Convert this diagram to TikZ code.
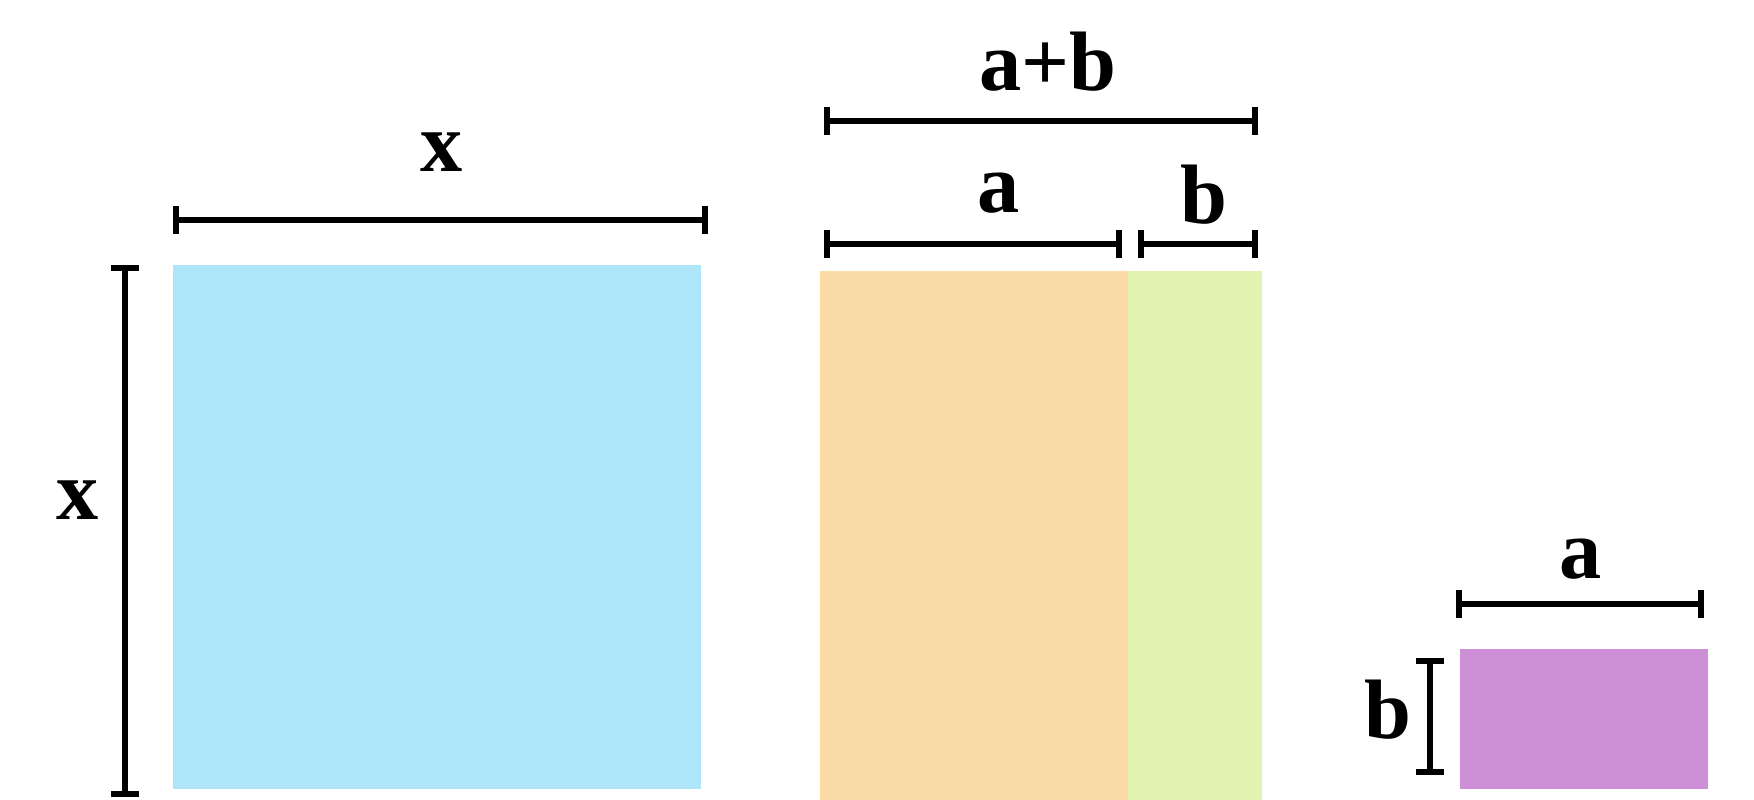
\documentclass[tikz,border=0pt]{standalone}
\usepackage{fontspec}
\setmainfont{Liberation Serif}
\usetikzlibrary{arrows.meta}
\definecolor{sqblue}{HTML}{AEE5F8}
\definecolor{sqorange}{HTML}{FCDCA6}
\definecolor{sqgreen}{HTML}{E1F3B0}
\definecolor{sqpurple}{HTML}{CD90D6}
\begin{document}
\begin{tikzpicture}[x=0.02cm,y=-0.02cm,
  dimline/.style={line width=3.4pt,{Bar[width=16pt]}-{Bar[width=16pt]}},
  lbl/.style={font=\fontsize{48}{56}\selectfont\bfseries, inner sep=0pt}]
\useasboundingbox[fill=white] (0,0) rectangle (1754,800);
% shapes
\fill[sqblue] (173,265) rectangle (701,789);
\fill[sqorange] (820,271) rectangle (1128,800);
\fill[sqgreen] (1128,271) rectangle (1262,800);
\fill[sqpurple] (1460,649) rectangle (1708,789);
% dimension end points
\coordinate (xt1) at (173,220); \coordinate (xt2) at (708,220);
\coordinate (xl1) at (125,265); \coordinate (xl2) at (125,797);
\coordinate (ab1) at (824,121); \coordinate (ab2) at (1258,121);
\coordinate (a1) at (824,244); \coordinate (a2) at (1122,244);
\coordinate (b1) at (1138,244); \coordinate (b2) at (1258,244);
\coordinate (ra1) at (1456,604); \coordinate (ra2) at (1704,604);
\coordinate (rb1) at (1430,658); \coordinate (rb2) at (1430,775);
\draw[dimline] (xt1) -- (xt2);
\draw[dimline] (xl1) -- (xl2);
\draw[dimline] (ab1) -- (ab2);
\draw[dimline] (a1) -- (a2);
\draw[dimline] (b1) -- (b2);
\draw[dimline] (ra1) -- (ra2);
\draw[dimline] (rb1) -- (rb2);
% labels
\node[lbl] (lx) at (442,152) {x};
\node[lbl] (lxl) at (78,500) {x};
\node[lbl] (lab) at (1048,62) {a+b};
\node[lbl] (la) at (999,193) {a};
\node[lbl] (lb) at (1204,195) {b};
\node[lbl] (lra) at (1581,559) {a};
\node[lbl] (lrb) at (1388,710) {b};
\end{tikzpicture}
\end{document}
